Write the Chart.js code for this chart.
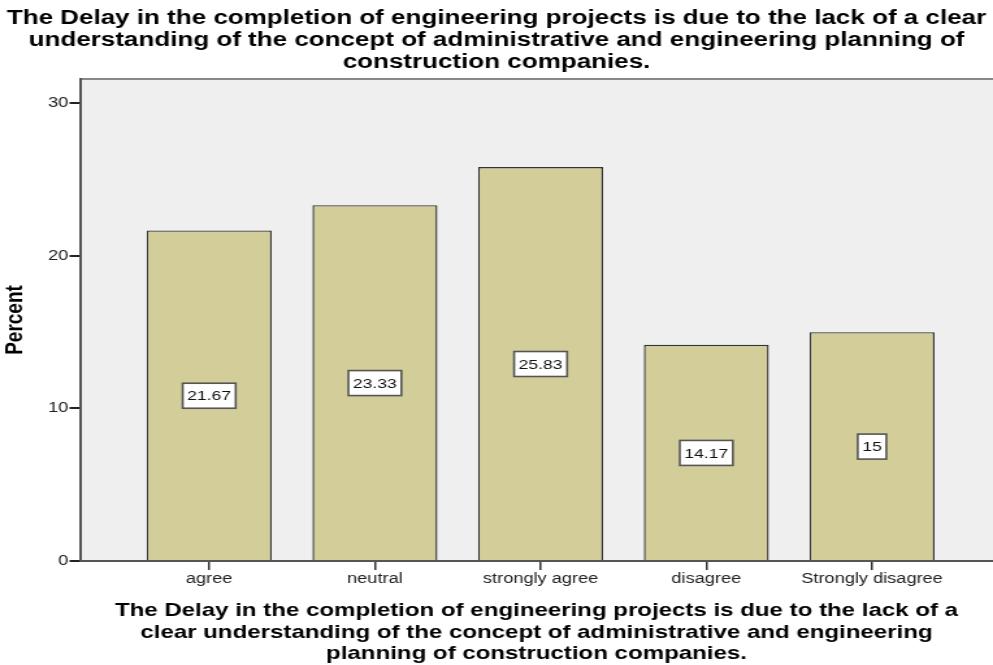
<!DOCTYPE html>
<html>
<head>
<meta charset="utf-8">
<script src="https://cdn.jsdelivr.net/npm/chart.js@4"></script>
<style>
  html, body { margin: 0; padding: 0; background: #fff; overflow: hidden; }
  /* the source picture is stretched sideways, so the canvas is drawn narrow and widened by CSS */
  #barChart { display: block; }
</style>
</head>
<body>
<canvas id="barChart" width="764" height="665" style="width:993px;height:665px"></canvas>
<script>
const categories = ["agree", "neutral", "strongly agree", "disagree", "Strongly disagree"];
const percents = [21.67, 23.33, 25.83, 14.17, 15];
const valueLabels = ["21.67", "23.33", "25.83", "14.17", "15"];
const yTicks = [0, 10, 20, 30];
const titleLines = [
  "The Delay in the completion of engineering projects is due to the lack of a clear",
  "understanding of the concept of administrative and engineering planning of",
  "construction companies."
];
const xTitleLines = [
  "The Delay in the completion of engineering projects is due to the lack of a",
  "clear understanding of the concept of administrative and engineering",
  "planning of construction companies."
];

const FONT = "'Liberation Sans', Arial, sans-serif";

// grey plot background + top frame line
const plotFrame = {
  id: "plotFrame",
  beforeDraw(chart) {
    const { ctx, chartArea: a } = chart;
    ctx.save();
    ctx.fillStyle = "#efefef";
    ctx.fillRect(a.left, a.top, a.right - a.left, a.bottom - a.top);
    ctx.strokeStyle = "#888";
    ctx.lineWidth = 2;
    ctx.beginPath();
    ctx.moveTo(a.left, a.top);
    ctx.lineTo(a.right, a.top);
    ctx.stroke();
    ctx.restore();
  }
};

// boxed value labels at mid height of each bar
const boxLabels = {
  id: "boxLabels",
  afterDatasetsDraw(chart) {
    const { ctx, scales } = chart;
    ctx.save();
    ctx.font = "13.5px " + FONT;
    ctx.textAlign = "center";
    ctx.textBaseline = "middle";
    percents.forEach((v, i) => {
      const cx = scales.x.getPixelForValue(i);
      const cy = scales.y.getPixelForValue(v / 2);
      const w = ctx.measureText(valueLabels[i]).width + 7;
      const h = 25;
      ctx.fillStyle = "#fff";
      ctx.fillRect(cx - w / 2, cy - h / 2, w, h);
      ctx.strokeStyle = "#555";
      ctx.lineWidth = 1.6;
      ctx.strokeRect(cx - w / 2, cy - h / 2, w, h);
      ctx.fillStyle = "#111";
      ctx.fillText(valueLabels[i], cx, cy + 1);
    });
    ctx.restore();
  }
};

new Chart(document.getElementById("barChart"), {
  type: "bar",
  data: {
    datasets: [{
      label: "Percent",
      data: percents.map((v, i) => ({ x: i, y: v })),
      backgroundColor: "#d3ce99",
      borderColor: "#333",
      borderWidth: 1.4,
      barPercentage: 0.754,
      categoryPercentage: 1
    }]
  },
  options: {
    responsive: false,
    animation: false,
    devicePixelRatio: 1,
    layout: { padding: 0 },
    plugins: {
      legend: { display: false },
      tooltip: { enabled: false },
      title: {
        display: true,
        text: titleLines,
        color: "#000",
        font: { family: FONT, size: 20, weight: "bold", lineHeight: 1.1 },
        padding: { top: 7, bottom: 6 }
      }
    },
    scales: {
      x: {
        type: "linear",
        offset: false,
        min: -0.78,
        max: 4.73,
        afterBuildTicks: s => { s.ticks = categories.map((c, i) => ({ value: i })); },
        afterFit: s => { s.height = 104; },
        ticks: {
          callback: (v) => categories[v],
          color: "#222",
          font: { family: FONT, size: 14 },
          padding: 1,
          maxRotation: 0,
          autoSkip: false
        },
        grid: { offset: false, drawOnChartArea: false, drawTicks: true, tickLength: 9, color: "#333", lineWidth: 1.5 },
        border: { display: true, color: "#555", width: 2 },
        title: {
          display: true,
          text: xTitleLines,
          color: "#000",
          font: { family: FONT, size: 18.5, weight: "bold", lineHeight: 1.16 },
          padding: { top: 4, bottom: 0 }
        }
      },
      y: {
        min: 0,
        max: 31.6,
        afterBuildTicks: s => { s.ticks = yTicks.map(v => ({ value: v })); },
        afterFit: s => { s.width = 61.5; },
        ticks: {
          color: "#222",
          font: { family: FONT, size: 14 },
          padding: 1
        },
        grid: { drawOnChartArea: false, drawTicks: true, tickLength: 8, color: "#222", lineWidth: 2 },
        border: { display: true, color: "#555", width: 2 },
        title: {
          display: true,
          text: "Percent",
          color: "#000",
          font: { family: FONT, size: 19, weight: "bold" },
          padding: { top: 0, bottom: 8 }
        }
      }
    }
  },
  plugins: [plotFrame, boxLabels]
});
</script>
</body>
</html>
